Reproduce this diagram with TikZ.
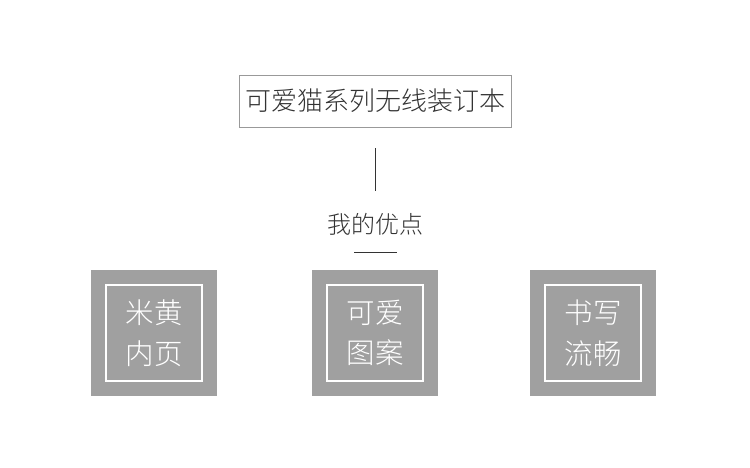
\documentclass[tikz,border=0pt]{standalone}
\usepackage{fontspec}
\newfontfamily\cjk{Noto Sans CJK SC}[UprightFont=* Light]
\definecolor{boxgray}{HTML}{A0A0A0}
\definecolor{linegray}{HTML}{999999}
\definecolor{txt}{HTML}{333333}
\begin{document}
\begin{tikzpicture}[x=1pt,y=-1pt,
  titlebox/.style={draw=linegray,line width=1pt,minimum width=272pt,minimum height=52pt,inner sep=0pt,
    font=\cjk\fontsize{26}{30}\selectfont,text=txt},
  label/.style={font=\cjk\fontsize{24}{28}\selectfont,text=txt,inner sep=0pt},
  sq/.style={fill=boxgray,minimum size=126pt,inner sep=0pt},
  inner/.style={draw=white,line width=1.5pt,minimum size=96pt,inner sep=0pt,align=center,
    font=\cjk\fontsize{28.5}{40.5}\selectfont,text=white},
  conn/.style={draw=txt,line width=0.8pt}]
\useasboundingbox (0,0) rectangle (750,467);
\fill[white] (0,0) rectangle (750,467);
\node[titlebox] (title) at (375,101) {可爱猫系列无线装订本};
\coordinate (v1) at (375,148);
\coordinate (v2) at (375,191);
\draw[conn] (v1) -- (v2);
\node[label] (adv) at (375,224) {我的优点};
\coordinate (h1) at (354,252.5);
\coordinate (h2) at (397,252.5);
\draw[conn] (h1) -- (h2);
\node[sq] (s1) at (154,333) {};
\node[inner] (i1) at (s1) {米黄\\内页};
\node[sq] (s2) at (375,333) {};
\node[inner] (i2) at (s2) {可爱\\图案};
\node[sq] (s3) at (593,333) {};
\node[inner] (i3) at (s3) {书写\\流畅};
\end{tikzpicture}
\end{document}
